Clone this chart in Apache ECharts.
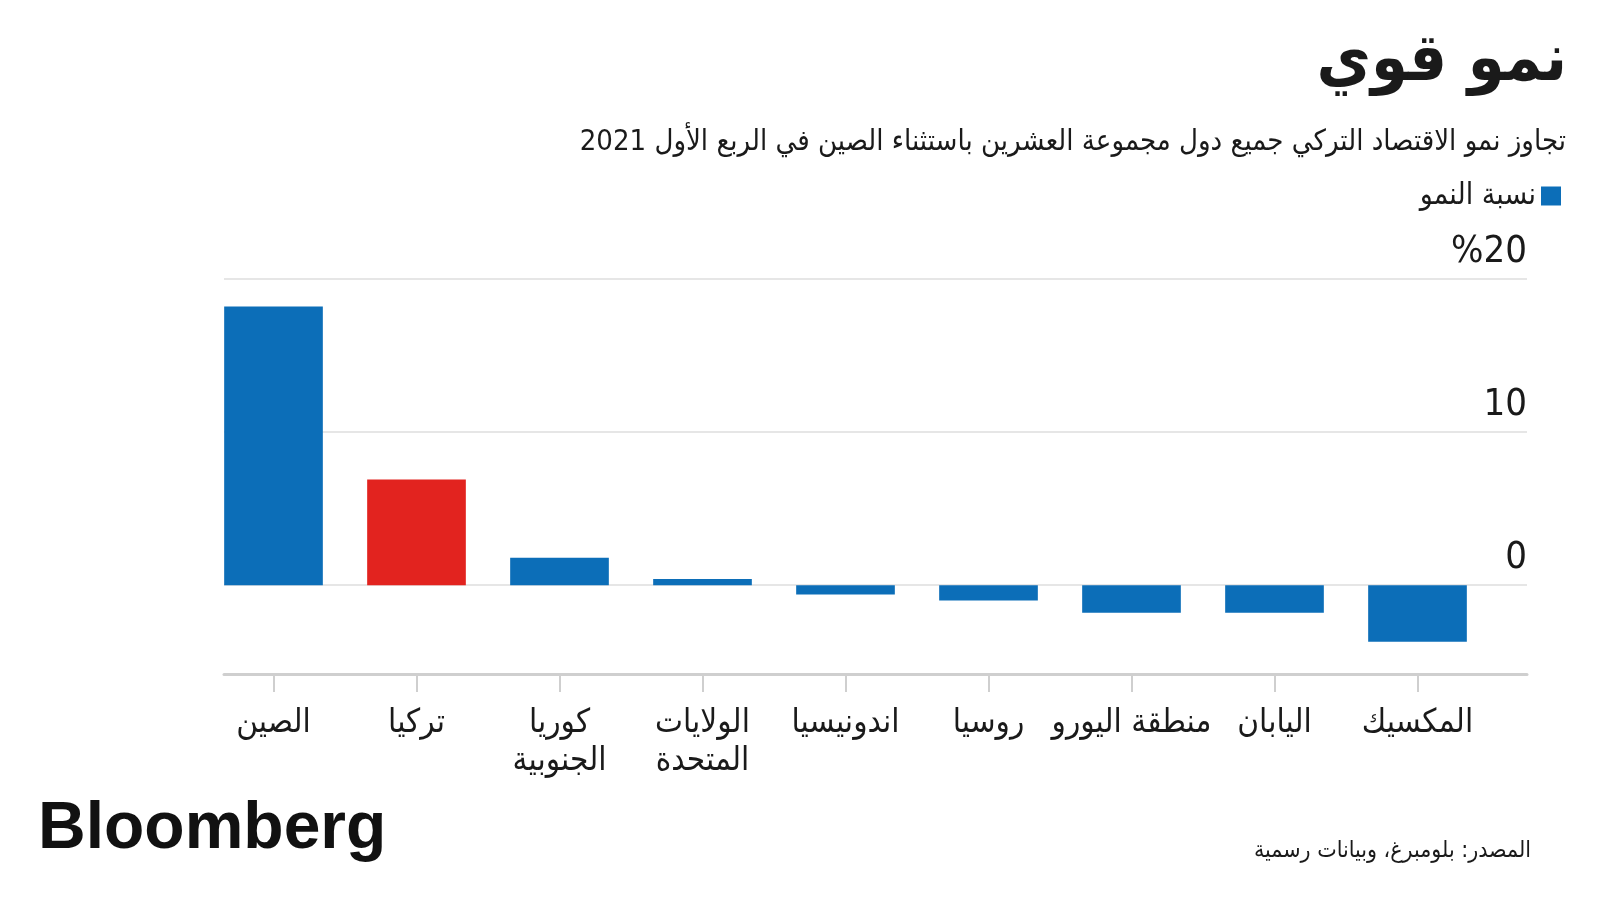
<!DOCTYPE html>
<html lang="ar" dir="rtl">
<head>
<meta charset="utf-8">
<script src="https://cdn.jsdelivr.net/npm/echarts@6/dist/echarts.min.js"></script>
<style>
  html, body { margin: 0; padding: 0; background: #fff; }
  #chart { width: 1600px; height: 900px; }
</style>
</head>
<body>
<div id="chart"></div>
<script>
// الدول (من اليسار الى اليمين كما في الرسم)
const countries = [
  "الصين",
  "تركيا",
  "كوريا\nالجنوبية",
  "الولايات\nالمتحدة",
  "اندونيسيا",
  "روسيا",
  "منطقة اليورو",
  "اليابان",
  "المكسيك"
];
// نسبة النمو %
const growth = [18.2, 6.9, 1.8, 0.4, -0.6, -1.0, -1.8, -1.8, -3.7];
const yTicks = [0, 10, 20];

const blue = "#0c6eb8";
const red = "#e2231f";
const textColor = "#1a1a1a";
const arFont = "'DejaVu Sans Condensed', 'DejaVu Sans', sans-serif";

const chart = echarts.init(document.getElementById("chart"), null, { renderer: "canvas" });

const barData = growth.map((v, i) => ({
  value: v,
  itemStyle: { color: i === 1 ? red : blue } // تركيا بالاحمر
}));

chart.setOption({
  animation: false,
  backgroundColor: "#fff",
  textStyle: { fontFamily: arFont },
  title: [
    {
      text: "نمو قوي",
      right: 33,
      top: 30,
      padding: 0,
      textStyle: { fontSize: 66, fontWeight: "bold", color: textColor, fontFamily: arFont }
    },
    {
      text: "تجاوز نمو الاقتصاد التركي جميع دول مجموعة العشرين باستثناء الصين في الربع الأول 2021",
      right: 34,
      top: 128,
      padding: 0,
      textStyle: { fontSize: 29, fontWeight: "normal", color: textColor, fontFamily: arFont }
    },
    {
      text: "Bloomberg",
      left: 38,
      top: 797,
      padding: 0,
      textStyle: { fontSize: 66, fontWeight: 900, color: "#111", fontFamily: "'Liberation Sans', Arial, sans-serif" }
    },
    {
      text: "المصدر: بلومبرغ، وبيانات رسمية",
      right: 69,
      top: 840,
      padding: 0,
      textStyle: { fontSize: 23, fontWeight: "normal", color: textColor, fontFamily: arFont }
    }
  ],
  legend: {
    data: ["نسبة النمو"],
    right: 34,
    top: 176,
    align: "right",
    icon: "rect",
    itemWidth: 20,
    itemHeight: 19,
    itemGap: 10,
    textStyle: { fontSize: 30, color: textColor, fontFamily: arFont }
  },
  grid: [
    // خطوط الشبكة والتسميات
    { left: 224, right: 73, top: 279, bottom: 226, containLabel: false },
    // الاعمدة
    { left: 202, right: 111, top: 279, bottom: 226, containLabel: false }
  ],
  xAxis: [
    {
      gridIndex: 0,
      type: "value",
      min: 0,
      max: 1,
      axisLine: { show: true, onZero: false, lineStyle: { color: "#cfcfcf", width: 3 } },
      axisTick: { show: false },
      axisLabel: { show: false },
      splitLine: { show: false }
    },
    {
      gridIndex: 1,
      type: "category",
      data: countries,
      axisLine: { show: false, onZero: false },
      axisTick: { show: true, alignWithLabel: true, length: 18, lineStyle: { color: "#cfcfcf", width: 2 } },
      axisLabel: {
        margin: 30,
        fontSize: 33,
        lineHeight: 38,
        color: textColor,
        fontFamily: arFont,
        interval: 0
      },
      splitLine: { show: false }
    }
  ],
  yAxis: [
    {
      gridIndex: 0,
      type: "value",
      position: "right",
      min: -5.8,
      max: 20,
      splitNumber: 2,
      axisLine: { show: false },
      axisTick: { show: false },
      splitLine: { show: true, showMinLine: false, lineStyle: { color: "#dedede", width: 1.5 } },
      axisLabel: {
        inside: true,
        margin: 0,
        fontSize: 38,
        color: textColor,
        fontFamily: "'DejaVu Sans Condensed', sans-serif",
        verticalAlign: "bottom",
        padding: [0, 0, 8, 0],
        showMinLabel: false,
        formatter: function(val) {
          if (yTicks.indexOf(val) < 0) return "";
          return val === 20 ? "%20" : String(val);
        }
      }
    },
    {
      gridIndex: 1,
      type: "value",
      min: -5.8,
      max: 20,
      show: false,
      splitLine: { show: false }
    }
  ],
  series: [
    {
      name: "نسبة النمو",
      type: "bar",
      xAxisIndex: 1,
      yAxisIndex: 1,
      barCategoryGap: "31%",
      itemStyle: { color: blue },
      data: barData
    }
  ]
});
</script>
</body>
</html>
